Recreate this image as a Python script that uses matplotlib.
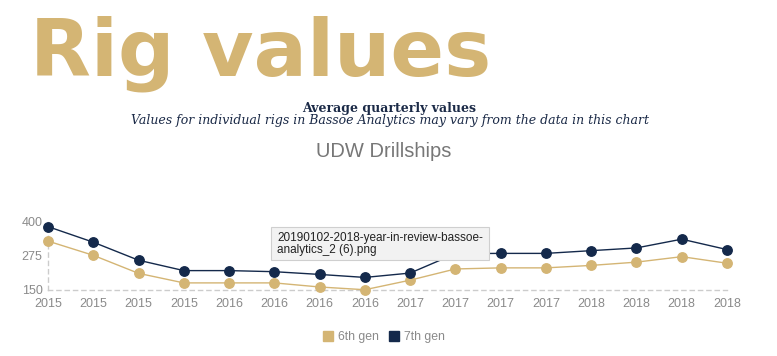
""" Rig values - UDW drillships, average quarterly values for 6th and 7th gen.
"""

import matplotlib
matplotlib.use('Agg')
import matplotlib.pyplot as plt
from matplotlib.lines import Line2D
from matplotlib.patches import Rectangle


# data (one point per quarter)
quarters = ['2015', '2015', '2015', '2015',
            '2016', '2016', '2016', '2016',
            '2017', '2017', '2017', '2017',
            '2018', '2018', '2018', '2018']
gen6_values = [329, 277, 211, 176, 176, 176, 161, 151,
               186, 227, 231, 231, 240, 252, 272, 248]
gen7_values = [382, 325, 259, 221, 221, 217, 207, 196,
               212, 283, 284, 284, 294, 304, 336, 298]
y_ticks = [150, 275, 400]
series_names = ['6th gen', '7th gen']

GOLD = '#D4B574'
NAVY = '#14294B'
W, H = 777, 356


def px(x, y):
    # pixel position (from top left) -> figure fraction
    return x / W, 1 - y / H


def main():
    fig = plt.figure(figsize=(W / 100, H / 100), dpi=100)

    # header texts
    fig.text(*px(30, 76), 'Rig values', color=GOLD, fontsize=57,
             fontweight='bold', family='DejaVu Sans', va='baseline', ha='left')
    fig.text(*px(389, 112), 'Average quarterly values', color='#1B2A47',
             fontsize=9, fontweight='bold', family='DejaVu Serif',
             va='baseline', ha='center')
    fig.text(*px(390, 124), 'Values for individual rigs in Bassoe Analytics '
             'may vary from the data in this chart', color='#1B2A47',
             fontsize=9.0, style='italic', family='DejaVu Serif',
             va='baseline', ha='center')
    fig.text(*px(384, 157), 'UDW Drillships', color='#777777', fontsize=14.5,
             family='Liberation Sans', va='baseline', ha='center')

    # plot area: first point at x=48, last at x=727, 400 at y=221.7, 150 at y=290
    left, top = px(48, 221.7)
    right, bottom = px(727, 290)
    ax = fig.add_axes([left, bottom, right - left, top - bottom])

    xs = list(range(len(quarters)))
    ax.plot(xs, gen6_values, color=GOLD, lw=1.0, marker='o', ms=6.8,
            clip_on=False, zorder=3)
    ax.plot(xs, gen7_values, color=NAVY, lw=1.0, marker='o', ms=6.8,
            clip_on=False, zorder=4)

    ax.set_xlim(0, len(quarters) - 1)
    ax.set_ylim(y_ticks[0], y_ticks[-1])
    ax.set_xticks(xs)
    ax.set_xticklabels(quarters)
    ax.set_yticks(y_ticks)
    ax.tick_params(length=0, labelsize=9, labelcolor='#8a8a8a')
    ax.tick_params(axis='x', pad=6)
    ax.tick_params(axis='y', pad=4)
    for lbl in ax.get_xticklabels() + ax.get_yticklabels():
        lbl.set_family('Liberation Sans')

    for side in ['top', 'right']:
        ax.spines[side].set_visible(False)
    for side in ['left', 'bottom']:
        ax.spines[side].set_color('#cccccc')
        ax.spines[side].set_linestyle((0, (3, 3)))
        ax.spines[side].set_linewidth(1.0)
    ax.patch.set_alpha(0)

    # legend
    handles = [
        Line2D([], [], color=GOLD, marker='s', ms=7.5, ls='none'),
        Line2D([], [], color=NAVY, marker='s', ms=7.5, ls='none'),
    ]
    fig.legend(handles, series_names, loc='center', bbox_to_anchor=px(384, 337),
               ncol=2, frameon=False, handlelength=0.8, handletextpad=0.4,
               columnspacing=0.9, prop={'family': 'Liberation Sans', 'size': 8.8},
               labelcolor='#8a8a8a')

    # file-name tooltip that sits over the chart in the screenshot
    x0, y0 = px(271, 260)
    x1, y1 = px(489, 227)
    fig.add_artist(Rectangle((x0, y0), x1 - x0, y1 - y0, transform=fig.transFigure,
                             facecolor='#f2f2f2', edgecolor='#cfcfcf', lw=0.8,
                             zorder=10))
    fig.text(*px(277, 241.5), '20190102-2018-year-in-review-bassoe-',
             fontsize=8.5, family='Liberation Sans', color='#222222',
             va='baseline', zorder=11)
    fig.text(*px(277, 253.5), 'analytics_2 (6).png',
             fontsize=8.5, family='Liberation Sans', color='#222222',
             va='baseline', zorder=11)

    fig.savefig('out.png', dpi=100)


if __name__ == '__main__':
    main()
